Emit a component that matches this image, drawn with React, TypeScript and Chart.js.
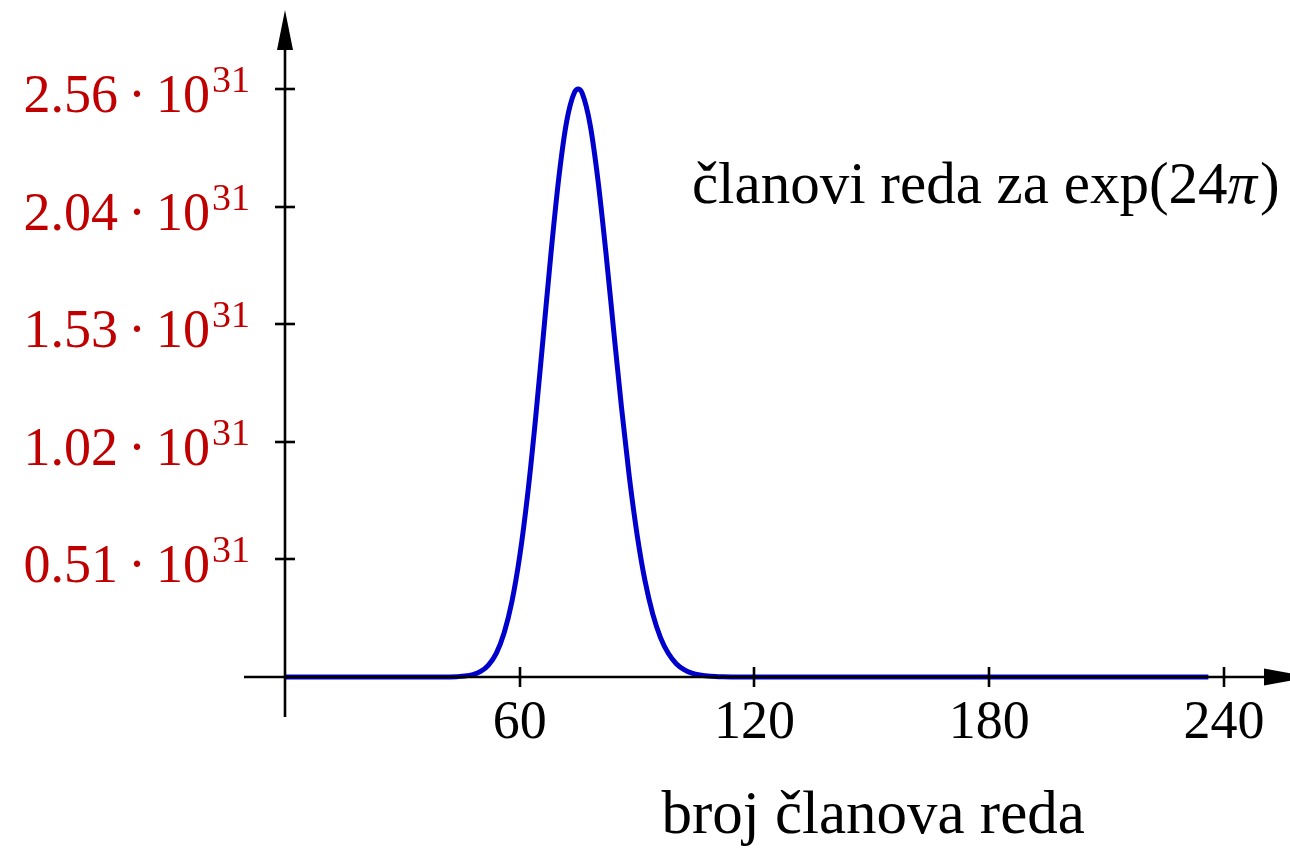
import React, { useEffect, useRef } from "react";
import { Chart, registerables } from "chart.js";

Chart.register(...registerables);

// term index n (x) and term value in units of 10^31 (y)
const termIndex = [
  0, 40, 42, 44, 46, 48, 50, 52, 54, 56, 58, 60, 62, 64, 66, 68, 70, 72, 74, 75,
  76, 78, 80, 82, 84, 86, 88, 90, 92, 94, 96, 98, 100, 102, 104, 106, 108, 110,
  112, 114, 236,
];
const termValues = [
  0, 0.0002, 0.0005, 0.0015, 0.0041, 0.0105, 0.024, 0.052, 0.103, 0.191, 0.328,
  0.526, 0.791, 1.116, 1.479, 1.845, 2.172, 2.415, 2.541, 2.555, 2.535, 2.399,
  2.158, 1.848, 1.507, 1.172, 0.87, 0.618, 0.419, 0.273, 0.17, 0.102, 0.058,
  0.032, 0.017, 0.0087, 0.0043, 0.002, 0.0009, 0.0004, 0,
];

const xTickValues = [60, 120, 180, 240];
const xTickLabels = ["60", "120", "180", "240"];
const yTickValues = [0.511, 1.022, 1.533, 2.044, 2.555];
const yTickLabels = ["0.51", "1.02", "1.53", "2.04", "2.56"];
const yTickBase = "10";
const yTickExponent = "31";
const curveLabel = "članovi reda za exp(24";
const curveLabelPi = "π";
const curveLabelEnd = ")";
const xAxisTitle = "broj članova reda";

const X_MIN = -10.48;
const X_MAX = 256.87;
const Y_MIN = -0.1738;
const Y_MAX = 2.8987;

const FONT = '"Liberation Serif", "Times New Roman", serif';
const RED = "rgb(192,0,0)";
const BLUE = "rgb(0,0,204)";

const axesPlugin = {
  id: "latexAxes",
  afterDatasetsDraw(chart: any) {
    const ctx: CanvasRenderingContext2D = chart.ctx;
    const xs = chart.scales.x;
    const ys = chart.scales.y;
    const area = chart.chartArea;
    const ax = Math.round(xs.getPixelForValue(0));
    const ay = Math.round(ys.getPixelForValue(0));

    ctx.save();
    ctx.strokeStyle = "#000";
    ctx.fillStyle = "#000";
    ctx.lineWidth = 2.6;
    ctx.lineCap = "butt";

    // x axis line
    ctx.beginPath();
    ctx.moveTo(area.left, ay);
    ctx.lineTo(area.right - 20, ay);
    ctx.stroke();
    // y axis line
    ctx.beginPath();
    ctx.moveTo(ax, area.bottom);
    ctx.lineTo(ax, area.top + 30);
    ctx.stroke();

    // arrows
    ctx.beginPath();
    ctx.moveTo(ax, area.top);
    ctx.lineTo(ax + 8, area.top + 40);
    ctx.lineTo(ax - 8, area.top + 40);
    ctx.closePath();
    ctx.fill();

    const arrowBase = area.right - 26;
    ctx.beginPath();
    ctx.moveTo(arrowBase + 46, ay);
    ctx.lineTo(arrowBase, ay - 8.5);
    ctx.lineTo(arrowBase, ay + 8.5);
    ctx.closePath();
    ctx.fill();

    // ticks
    xTickValues.forEach((v) => {
      const px = Math.round(xs.getPixelForValue(v));
      ctx.beginPath();
      ctx.moveTo(px, ay - 10);
      ctx.lineTo(px, ay + 10);
      ctx.stroke();
    });
    yTickValues.forEach((v) => {
      const py = Math.round(ys.getPixelForValue(v));
      ctx.beginPath();
      ctx.moveTo(ax - 10, py);
      ctx.lineTo(ax + 10, py);
      ctx.stroke();
    });

    // x tick labels
    ctx.font = `54px ${FONT}`;
    ctx.textAlign = "center";
    ctx.textBaseline = "alphabetic";
    xTickValues.forEach((v, i) => {
      const px = xs.getPixelForValue(v);
      ctx.fillText(xTickLabels[i], px, ay + 61);
    });

    // y tick labels: mantissa · 10^31
    ctx.fillStyle = RED;
    yTickValues.forEach((v, i) => {
      const py = ys.getPixelForValue(v);
      const right = ax - 35;
      ctx.textAlign = "right";
      ctx.font = `38px ${FONT}`;
      ctx.fillText(yTickExponent, right, py + 3);
      const expW = ctx.measureText(yTickExponent).width;
      ctx.font = `54px ${FONT}`;
      const baseRight = right - expW - 2;
      ctx.fillText(yTickBase, baseRight, py + 23);
      const baseW = ctx.measureText(yTickBase).width;
      const dotX = baseRight - baseW - 19;
      ctx.textAlign = "center";
      ctx.fillText("·", dotX, py + 23);
      ctx.textAlign = "right";
      ctx.fillText(yTickLabels[i], dotX - 19, py + 23);
    });

    // curve label
    ctx.fillStyle = "#000";
    ctx.textAlign = "left";
    ctx.font = `59px ${FONT}`;
    const lx = xs.getPixelForValue(104);
    const ly = ys.getPixelForValue(2.06);
    ctx.fillText(curveLabel, lx, ly);
    let w = ctx.measureText(curveLabel).width;
    ctx.font = `italic 59px ${FONT}`;
    ctx.fillText(curveLabelPi, lx + w, ly);
    w += ctx.measureText(curveLabelPi).width + 3;
    ctx.font = `59px ${FONT}`;
    ctx.fillText(curveLabelEnd, lx + w, ly);

    // x axis title
    ctx.font = `61px ${FONT}`;
    ctx.textAlign = "left";
    ctx.fillText(xAxisTitle, xs.getPixelForValue(96.2), ay + 156);

    ctx.restore();
  },
};

export default function App() {
  const canvasRef = useRef<HTMLCanvasElement | null>(null);

  useEffect(() => {
    document.body.style.margin = "0";
    document.body.style.overflow = "hidden";
    const canvas = canvasRef.current;
    if (!canvas) return;
    const chart = new Chart(canvas, {
      type: "line",
      data: {
        datasets: [
          {
            data: termIndex.map((n, i) => ({ x: n, y: termValues[i] })),
            borderColor: BLUE,
            borderWidth: 5,
            pointRadius: 0,
            fill: false,
            cubicInterpolationMode: "monotone",
          },
        ],
      },
      options: {
        responsive: false,
        animation: false,
        devicePixelRatio: 1,
        layout: { padding: { left: 244, right: 0, top: 10, bottom: 132 } },
        plugins: {
          legend: { display: false },
          tooltip: { enabled: false },
          title: { display: false },
        },
        scales: {
          x: { type: "linear", min: X_MIN, max: X_MAX, display: false },
          y: { type: "linear", min: Y_MIN, max: Y_MAX, display: false },
        },
      },
      plugins: [axesPlugin],
    });
    return () => chart.destroy();
  }, []);

  return (
    <div style={{ width: 1290, height: 849, background: "#fff" }}>
      <canvas ref={canvasRef} width={1290} height={849} style={{ display: "block" }} />
    </div>
  );
}
